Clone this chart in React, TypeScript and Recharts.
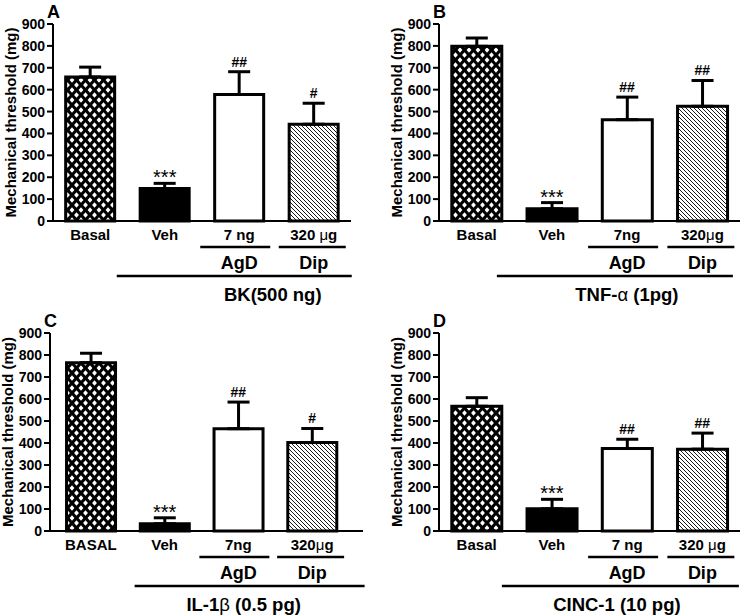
import React from "react";
import {
  ComposedChart,
  Bar,
  Cell,
  ErrorBar,
  Line,
  LabelList,
  XAxis,
  YAxis,
} from "recharts";

const FONT = "'Liberation Sans', Arial, Helvetica, sans-serif";

// groups shown in every panel
const groups = ["Basal", "Veh", "AgD", "Dip"];
const yTicks = [0, 100, 200, 300, 400, 500, 600, 700, 800, 900];

// A: BK
const bkMean = [658, 148, 578, 442];
const bkErr = [45, 24, 104, 96];
const bkSig = ["", "***", "##", "#"];
// B: TNF-alpha
const tnfMean = [798, 56, 463, 524];
const tnfErr = [38, 28, 103, 118];
const tnfSig = ["", "***", "##", "##"];
// C: IL-1beta
const il1Mean = [765, 33, 465, 402];
const il1Err = [43, 27, 121, 64];
const il1Sig = ["", "***", "##", "#"];
// D: CINC-1
const cincMean = [567, 101, 375, 372];
const cincErr = [39, 43, 42, 73];
const cincSig = ["", "***", "##", "##"];

const labelsSpaced = ["Basal", "Veh", "7 ng", "320 μg"];
const labelsTight = ["Basal", "Veh", "7ng", "320μg"];
const labelsUpper = ["BASAL", "Veh", "7ng", "320μg"];

interface Panel {
  id: string;
  letter: string;
  title: string;
  mean: number[];
  err: number[];
  sig: string[];
  labels: string[];
  left: number;
  top: number;
  width: number;
  margin: { top: number; right: number; bottom: number; left: number };
  yWidth: number;
  pad: { left: number; right: number };
  lineFrom: number;
  lineTo: number;
  titleDx: number;
}

const panels: Panel[] = [
  {
    id: "A", letter: "A", title: "BK(500 ng)",
    mean: bkMean, err: bkErr, sig: bkSig, labels: labelsSpaced,
    left: 0, top: 0, width: 370,
    margin: { top: 24, right: 19, bottom: 7, left: 0 }, yWidth: 53,
    pad: { left: 0, right: 0 }, lineFrom: -48, lineTo: 187, titleDx: 108,
  },
  {
    id: "B", letter: "B", title: "TNF-α (1pg)",
    mean: tnfMean, err: tnfErr, sig: tnfSig, labels: labelsTight,
    left: 370, top: 0, width: 371,
    margin: { top: 24, right: 1, bottom: 7, left: 0 }, yWidth: 69,
    pad: { left: 0, right: 0 }, lineFrom: -55, lineTo: 181, titleDx: 75,
  },
  {
    id: "C", letter: "C", title: "IL-1β (0.5 pg)",
    mean: il1Mean, err: il1Err, sig: il1Sig, labels: labelsUpper,
    left: 0, top: 308, width: 370,
    margin: { top: 25, right: 7, bottom: 5, left: 0 }, yWidth: 50,
    pad: { left: 4, right: 14 }, lineFrom: -30, lineTo: 200, titleDx: 79,
  },
  {
    id: "D", letter: "D", title: "CINC-1 (10 pg)",
    mean: cincMean, err: cincErr, sig: cincSig, labels: labelsSpaced,
    left: 370, top: 308, width: 371,
    margin: { top: 25, right: 1, bottom: 5, left: 0 }, yWidth: 69,
    pad: { left: 0, right: 0 }, lineFrom: -50, lineTo: 187, titleDx: 65,
  },
];

// greek letters come from a symbol font in the original, so not bold
function withGreek(s: string) {
  const parts = s.split(/([μαβ])/);
  return parts.map((t, i) =>
    /[μαβ]/.test(t) ? (
      <tspan key={i} fontWeight="normal">{t}</tspan>
    ) : (
      <tspan key={i}>{t}</tspan>
    )
  );
}

const underline: Record<number, [number, number]> = {
  2: [-39, 31],
  3: [-35, 32],
};

const makeTick = (p: Panel) => (props: any) => {
  const { x, y, index } = props;
  return (
    <g fontFamily={FONT} fill="#000">
      <text x={x} y={y + 19} textAnchor="middle" fontSize={15} fontWeight="bold">
        {withGreek(p.labels[index])}
      </text>
      {index >= 2 && (
        <>
          <line x1={x + underline[index][0]} x2={x + underline[index][1]} y1={y + 26} y2={y + 26} stroke="#000" strokeWidth={2.5} />
          <text x={x} y={y + 48} textAnchor="middle" fontSize={18} fontWeight="bold">
            {groups[index]}
          </text>
        </>
      )}
      {index === 1 && (
        <>
          <line x1={x + p.lineFrom} x2={x + p.lineTo} y1={y + 55} y2={y + 55} stroke="#000" strokeWidth={2.5} />
          <text x={x + p.titleDx} y={y + 80} textAnchor="middle" fontSize={18.5} fontWeight="bold">
            {withGreek(p.title)}
          </text>
        </>
      )}
    </g>
  );
};

const makeYLabel = (letter: string) => (props: any) => {
  const vb = props.viewBox;
  const cx = vb.x + vb.width - 43;
  const cy = vb.y + vb.height / 2;
  return (
    <g fontFamily={FONT} fill="#000">
      <text x={cx} y={cy} transform={`rotate(-90 ${cx} ${cy})`} textAnchor="middle" dominantBaseline="central" fontSize={15} fontWeight="bold">
        Mechanical threshold (mg)
      </text>
      <text x={vb.x + vb.width - 6} y={vb.y - 6} fontSize={18} fontWeight="bold">
        {letter}
      </text>
    </g>
  );
};

const renderSig = (props: any) => {
  const { x, y, value } = props;
  if (!value) return null;
  if (value === "***") {
    return (
      <text x={x} y={y + 1} textAnchor="middle" fontSize={20} fontFamily={FONT} fill="#000">
        ***
      </text>
    );
  }
  return (
    <text x={x} y={y - 5} textAnchor="middle" fontSize={14} fontWeight="bold" fontFamily={FONT} fill="#000">
      {value}
    </text>
  );
};

const diamond = (cx: number, cy: number) =>
  `M${cx - 2.4},${cy} L${cx},${cy - 2.7} L${cx + 2.4},${cy} L${cx},${cy + 2.7} Z`;

function PanelChart({ p }: { p: Panel }) {
  const data = groups.map((g, i) => ({
    group: g,
    mean: p.mean[i],
    errRange: [0, p.err[i]],
    top: p.mean[i] + p.err[i],
    sig: p.sig[i],
  }));
  const fills = [`url(#cross-${p.id})`, "#000", "#fff", `url(#hatch-${p.id})`];

  return (
    <div style={{ position: "absolute", left: p.left, top: p.top }}>
      <ComposedChart width={p.width} height={308} data={data} margin={p.margin} barCategoryGap="17%">
        <defs>
          <pattern id={`cross-${p.id}`} width="9" height="10" patternUnits="userSpaceOnUse">
            <rect width="9" height="10" fill="#000" />
            <path
              d={[diamond(4.5, 5), diamond(0, 0), diamond(9, 0), diamond(0, 10), diamond(9, 10)].join(" ")}
              fill="#fff"
            />
          </pattern>
          <pattern id={`hatch-${p.id}`} width="4" height="4" patternUnits="userSpaceOnUse">
            <rect width="4" height="4" fill="#fff" />
            <path d="M-1,-1 L5,5 M-1,3 L1,5 M3,-1 L5,1" stroke="#000" strokeWidth={0.9} />
          </pattern>
        </defs>
        <XAxis
          dataKey="group"
          height={80}
          interval={0}
          padding={p.pad}
          axisLine={{ stroke: "#000", strokeWidth: 2 }}
          tickLine={false}
          tickSize={0}
          tickMargin={0}
          tick={makeTick(p)}
        />
        <YAxis
          width={p.yWidth}
          domain={[0, 900]}
          ticks={yTicks}
          interval={0}
          axisLine={{ stroke: "#000", strokeWidth: 2 }}
          tickLine={{ stroke: "#000", strokeWidth: 2 }}
          tickSize={6}
          tickMargin={2}
          tick={{ fill: "#000", fontSize: 14, fontWeight: "bold", fontFamily: FONT }}
          label={makeYLabel(p.letter)}
        />
        <Bar dataKey="mean" stroke="#000" strokeWidth={3} isAnimationActive={false}>
          {fills.map((f, i) => (
            <Cell key={i} fill={f} stroke="#000" strokeWidth={3} />
          ))}
          <ErrorBar dataKey="errRange" direction="y" width={11} stroke="#000" strokeWidth={3} />
        </Bar>
        <Line
          dataKey="top"
          stroke="none"
          dot={false}
          activeDot={false}
          legendType="none"
          isAnimationActive={false}
        >
          <LabelList dataKey="sig" content={renderSig} />
        </Line>
      </ComposedChart>
    </div>
  );
}

export default function App() {
  return (
    <div style={{ position: "absolute", left: 0, top: 0, width: 741, height: 616, background: "#fff" }}>
      {panels.map((p) => (
        <PanelChart key={p.id} p={p} />
      ))}
    </div>
  );
}
